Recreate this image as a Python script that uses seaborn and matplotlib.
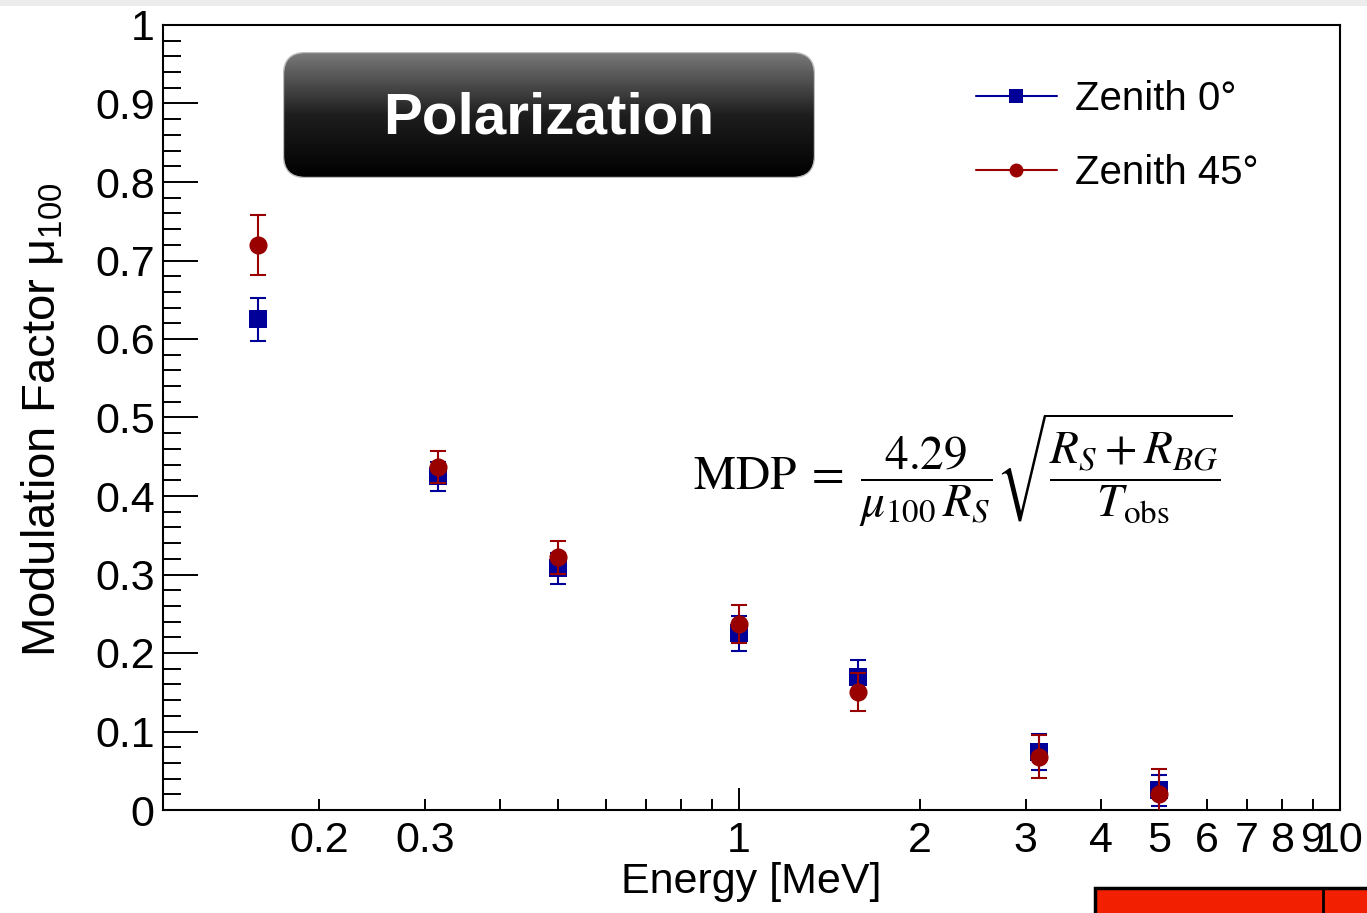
import numpy as np
import pandas as pd
import matplotlib
matplotlib.use("Agg")
import matplotlib.pyplot as plt
import seaborn as sns
from matplotlib.lines import Line2D
from matplotlib.patches import FancyBboxPatch, Rectangle
from matplotlib.ticker import FixedLocator, FuncFormatter, NullFormatter
from matplotlib import font_manager

# ---------------- data ----------------
energy = [0.158, 0.316, 0.50, 1.0, 1.58, 3.16, 5.0]
mu_zenith0 = [0.625, 0.425, 0.308, 0.225, 0.170, 0.074, 0.025]
err_zenith0 = [0.027, 0.018, 0.020, 0.022, 0.021, 0.023, 0.020]
mu_zenith45 = [0.720, 0.437, 0.322, 0.237, 0.150, 0.068, 0.020]
err_zenith45 = [0.038, 0.020, 0.021, 0.024, 0.024, 0.027, 0.032]
series_labels = ["Zenith 0°", "Zenith 45°"]
series_colors = ["#000099", "#990000"]
series_markers = ["s", "o"]

x_label_values = [0.2, 0.3, 1, 2, 3, 4, 5, 6, 7, 8, 9, 10]
x_label_texts = ["0.2", "0.3", "1", "2", "3", "4", "5", "6", "7", "8", "9", "10"]
x_major = [1, 10]
x_minor = [0.2, 0.3, 0.4, 0.5, 0.6, 0.7, 0.8, 0.9, 2, 3, 4, 5, 6, 7, 8, 9]
y_major = [0, 0.1, 0.2, 0.3, 0.4, 0.5, 0.6, 0.7, 0.8, 0.9, 1.0]
y_major_labels = ["0", "0.1", "0.2", "0.3", "0.4", "0.5", "0.6", "0.7", "0.8", "0.9", "1"]
y_minor = [i * 0.02 for i in range(51)]

df = pd.DataFrame({
    "energy": energy * 2,
    "mu": mu_zenith0 + mu_zenith45,
    "err": err_zenith0 + err_zenith45,
    "series": [series_labels[0]] * len(energy) + [series_labels[1]] * len(energy),
})

# ---------------- style ----------------
sns.set_style("white")
plt.rcParams["font.family"] = ["Liberation Sans", "DejaVu Sans"]
plt.rcParams["mathtext.fontset"] = "stix"
plt.rcParams["text.color"] = "black"
plt.rcParams["axes.labelcolor"] = "black"
plt.rcParams["xtick.color"] = "black"
plt.rcParams["ytick.color"] = "black"

W, H = 1367, 913
fig = plt.figure(figsize=(W / 100, H / 100), dpi=100)
fig.patch.set_facecolor("white")

ax = fig.add_axes([163 / W, 1 - 810 / H, (1340 - 163) / W, (810 - 25) / H])

for i, (lab, col, mk) in enumerate(zip(series_labels, series_colors, series_markers)):
    sub = df[df["series"] == lab]
    ax.errorbar(sub["energy"], sub["mu"], yerr=sub["err"], fmt="none",
                ecolor=col, elinewidth=1.5, capsize=6, capthick=1.5,
                zorder=3 + 2 * i)
    sns.scatterplot(data=sub, x="energy", y="mu", marker=mk, color=col,
                    s=170, linewidth=0, ax=ax, legend=False, zorder=4 + 2 * i)

ax.set_xscale("log")
ax.set_xlim(0.11, 10.0)
ax.set_ylim(0, 1)

label_map = dict(zip(x_label_values, x_label_texts))


def xfmt(v, pos):
    for k, t in label_map.items():
        if abs(v - k) < 1e-6 * max(1, k):
            return t
    return ""


ax.xaxis.set_major_locator(FixedLocator(x_major))
ax.xaxis.set_minor_locator(FixedLocator(x_minor))
ax.xaxis.set_major_formatter(FuncFormatter(xfmt))
ax.xaxis.set_minor_formatter(FuncFormatter(xfmt))
ax.yaxis.set_major_locator(FixedLocator(y_major))
ax.yaxis.set_minor_locator(FixedLocator(y_minor))
ax.set_yticklabels(y_major_labels)
ax.yaxis.set_minor_formatter(NullFormatter())

ax.tick_params(axis="x", which="major", direction="in", length=16, width=1.4,
               labelsize=31, pad=8, bottom=True, top=False, colors="black")
ax.tick_params(axis="x", which="minor", direction="in", length=8, width=1.4,
               labelsize=31, pad=8, bottom=True, top=False, colors="black")
ax.tick_params(axis="y", which="major", direction="in", length=25, width=1.4,
               labelsize=31, pad=6, left=True, right=False, colors="black")
ax.tick_params(axis="y", which="minor", direction="in", length=13, width=1.4,
               left=True, right=False, colors="black")
for sp in ax.spines.values():
    sp.set_visible(True)
    sp.set_color("black")
    sp.set_linewidth(1.5)

# axis titles
ax.set_xlabel("Energy [MeV]", fontsize=31, color="black")
ax.xaxis.set_label_coords(0.5, -0.066)

narrow = None
try:
    font_manager.findfont(font_manager.FontProperties(family="Liberation Sans Narrow"),
                          fallback_to_default=False)
    narrow = "Liberation Sans Narrow"
except Exception:
    narrow = None
if narrow:
    ax.set_ylabel("Modulation Factor $\\mathregular{\\mu_{100}}$", fontsize=40,
                  family=[narrow, "Liberation Sans"], color="black")
else:
    ax.set_ylabel("Modulation Factor $\\mathregular{\\mu_{100}}$", fontsize=34,
                  color="black")
ax.yaxis.set_label_coords(-0.083, 0.497)

# legend
handles = [Line2D([0], [0], color=c, lw=1.5, marker=m, markersize=10,
                  markeredgewidth=0)
           for c, m in zip(series_colors, series_markers)]
fig.legend(handles, series_labels, loc="upper left",
           bbox_to_anchor=(976 / W, 1 - 80 / H), frameon=False, fontsize=29,
           handlelength=2.0, handletextpad=0.45, labelspacing=0.9,
           borderpad=0, borderaxespad=0, labelcolor="black")

# formula
fig.text(693 / W, 1 - 470 / H,
         r"$\mathrm{MDP}\;=\;\dfrac{4.29}{\mu_{100}\,R_S}\sqrt{\dfrac{R_S + R_{BG}}{T_{\mathrm{obs}}}}$",
         fontsize=34, ha="left", va="center", math_fontfamily="stix", color="black")

# Polarization box with gradient
bx0, by0, bx1, by1 = 283, 52, 815, 178
bw, bh = bx1 - bx0, by1 - by0
bax = fig.add_axes([bx0 / W, 1 - by1 / H, bw / W, bh / H])
bax.set_xlim(0, bw)
bax.set_ylim(0, bh)
bax.axis("off")
grad = np.linspace(0, 1, 256).reshape(-1, 1)
img = bax.imshow(grad, extent=(0, bw, 0, bh), origin="lower", aspect="auto",
                 cmap=matplotlib.colors.LinearSegmentedColormap.from_list(
                     "g", ["#000000", "#1e1e1e", "#7a7a7a"]), zorder=1)
clip = FancyBboxPatch((0.5, 0.5), bw - 1, bh - 1,
                      boxstyle="round,pad=0,rounding_size=22",
                      transform=bax.transData, facecolor="none",
                      edgecolor="#bdbdbd", lw=1.0, zorder=2)
bax.add_patch(clip)
img.set_clip_path(clip)
bax.text(bw / 2, bh / 2 - 4, "Polarization", color="white", fontsize=42,
         fontweight="bold", ha="center", va="center", zorder=3)

# slide decoration at bottom right and top
fig.patches.append(Rectangle((1095 / W, -0.01), (1367 - 1095) / W + 0.01, 25 / H + 0.01,
                             transform=fig.transFigure, facecolor="#f22000",
                             edgecolor="black", lw=2.5, zorder=5))
fig.lines.append(Line2D([1323 / W, 1323 / W], [0, 25 / H], color="black", lw=2.0,
                        transform=fig.transFigure, zorder=6))
fig.patches.append(Rectangle((0, 1 - 6 / H), 1, 6 / H, transform=fig.transFigure,
                             facecolor="#ececec", edgecolor="none", zorder=0))

fig.savefig("out.png", dpi=100)
